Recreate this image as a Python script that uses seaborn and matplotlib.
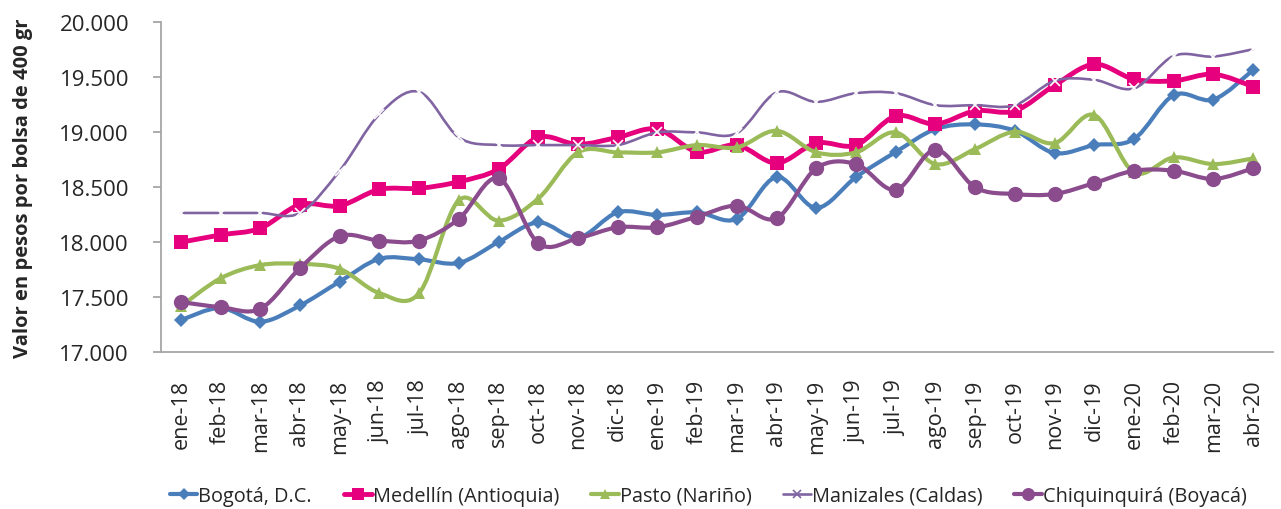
import numpy as np
import pandas as pd
import matplotlib
matplotlib.use("Agg")
import matplotlib.pyplot as plt
from matplotlib.path import Path
from matplotlib.patches import PathPatch
from matplotlib.lines import Line2D
from matplotlib.ticker import FuncFormatter
import seaborn as sns

months = ["ene-18", "feb-18", "mar-18", "abr-18", "may-18", "jun-18", "jul-18",
          "ago-18", "sep-18", "oct-18", "nov-18", "dic-18", "ene-19", "feb-19",
          "mar-19", "abr-19", "may-19", "jun-19", "jul-19", "ago-19", "sep-19",
          "oct-19", "nov-19", "dic-19", "ene-20", "feb-20", "mar-20", "abr-20"]

bogota = [17290, 17400, 17275, 17423, 17640, 17847, 17842, 17810, 18000, 18178,
          18040, 18270, 18246, 18270, 18210, 18590, 18310, 18590, 18818, 19026,
          19069, 19011, 18809, 18881, 18936, 19335, 19295, 19564]
medellin = [17998, 18064, 18125, 18340, 18330, 18478, 18488, 18548, 18663, 18951,
            18887, 18951, 19026, 18820, 18881, 18718, 18899, 18881, 19145, 19072,
            19192, 19192, 19425, 19616, 19480, 19465, 19525, 19413]
pasto = [17415, 17670, 17790, 17801, 17756, 17535, 17535, 18380, 18194, 18395,
         18815, 18815, 18815, 18881, 18860, 19011, 18815, 18815, 18996, 18708,
         18845, 19002, 18899, 19154, 18633, 18769, 18708, 18760]
manizales = [18264, 18264, 18264, 18264, 18648, 19162, 19365, 18951, 18881, 18881,
             18881, 18881, 18996, 18996, 18990, 19360, 19274, 19353, 19353, 19244,
             19244, 19244, 19465, 19474, 19396, 19692, 19686, 19752]
chiquinquira = [17454, 17408, 17393, 17762, 18053, 18013, 18013, 18210, 18579, 17989,
                18034, 18134, 18134, 18231, 18330, 18216, 18670, 18709, 18475, 18839,
                18497, 18436, 18436, 18536, 18648, 18648, 18573, 18670]

series_names = ["Bogotá, D.C.", "Medellín (Antioquia)", "Pasto (Nariño)",
                "Manizales (Caldas)", "Chiquinquirá (Boyacá)"]
series_values = [bogota, medellin, pasto, manizales, chiquinquira]

y_ticks = [17000, 17500, 18000, 18500, 19000, 19500, 20000]

colors = ["#4A7EBB", "#E6007E", "#9BBB59", "#8064A2", "#8B4C8E"]
markers = ["D", "s", "^", "x", "o"]
msizes = [7.5, 10, 8.5, 7, 11]
lwidths = [3.0, 3.5, 3.0, 1.9, 3.0]

sns.set_theme(style="white")
plt.rcParams["font.family"] = ["Open Sans", "DejaVu Sans"]
text_color = "#262626"

fig = plt.figure(figsize=(12.81, 5.10), dpi=100)
ax = fig.add_axes([161 / 1281, 1 - 353 / 510, (1273 - 161) / 1281, (353 - 23) / 510])

x_idx = np.arange(len(months))


def smooth_path(xs, ys):
    pts = np.column_stack([xs, ys]).astype(float)
    n = len(pts)
    verts = [pts[0]]
    codes = [Path.MOVETO]
    for i in range(n - 1):
        p0 = pts[i - 1] if i > 0 else pts[i]
        p1 = pts[i]
        p2 = pts[i + 1]
        p3 = pts[i + 2] if i + 2 < n else pts[i + 1]
        c1 = p1 + (p2 - p0) / 6.0
        c2 = p2 - (p3 - p1) / 6.0
        verts += [c1, c2, p2]
        codes += [Path.CURVE4] * 3
    return Path(verts, codes)


handles = []
for k, (name, vals) in enumerate(zip(series_names, series_values)):
    df = pd.DataFrame({"x": x_idx, "y": vals})
    patch = PathPatch(smooth_path(df["x"].values, df["y"].values), facecolor="none",
                      edgecolor=colors[k], lw=lwidths[k], zorder=2 + 2 * k,
                      capstyle="round", joinstyle="round")
    ax.add_patch(patch)
    mkw = dict(markersize=msizes[k], color=colors[k])
    if markers[k] == "x":
        mkw.update(markeredgewidth=1.2)
    else:
        mkw.update(markeredgewidth=0)
    sns.lineplot(data=df, x="x", y="y", ax=ax, linestyle="none", marker=markers[k],
                 zorder=3 + 2 * k, **mkw)
    handles.append(Line2D([0], [0], color=colors[k], lw=lwidths[k], marker=markers[k],
                          markersize=msizes[k] * 0.85,
                          markeredgewidth=mkw["markeredgewidth"], label=name))

ax.set_xlim(-0.5, len(months) - 0.5)
ax.set_ylim(17000, 20000)
ax.set_yticks(y_ticks)
ax.yaxis.set_major_formatter(FuncFormatter(lambda v, p: f"{int(v):,}".replace(",", ".")))
ax.set_xticks(x_idx)
ax.set_xticklabels(months, rotation=90)

for s in ["top", "right"]:
    ax.spines[s].set_visible(False)
for s in ["left", "bottom"]:
    ax.spines[s].set_color("#A6A6A6")
    ax.spines[s].set_linewidth(1.3)

ax.tick_params(axis="y", which="major", left=True, length=6, width=1.3, color="#A6A6A6",
               labelsize=16, labelcolor=text_color, pad=17, direction="out")
ax.tick_params(axis="x", which="major", bottom=False, labelsize=15.5,
               labelcolor=text_color, pad=13.5)
ax.grid(False)
ax.set_xlabel("")
ax.set_ylabel("Valor en pesos por bolsa de 400 gr", fontsize=14.5, fontweight="bold",
              color=text_color)
ax.yaxis.set_label_coords(-0.115, 0.5)

fig.legend(handles=handles, loc="center", bbox_to_anchor=(0.553, 1 - 497 / 510),
           ncol=5, frameon=False, fontsize=14.3, handlelength=1.4, handletextpad=0.05,
           columnspacing=1.6, labelcolor=text_color)

fig.savefig("out.png", dpi=100)
